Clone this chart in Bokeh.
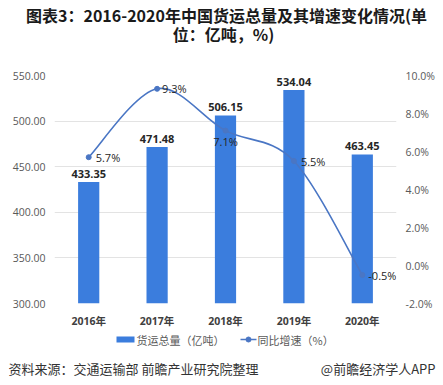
from bokeh.plotting import figure
from bokeh.layouts import column
from bokeh.models import (ColumnDataSource, Range1d, LinearAxis, LabelSet,
                          FixedTicker, NumeralTickFormatter, CustomJSTickFormatter)
from bokeh.core.properties import value
from bokeh.embed import file_html
from bokeh.resources import INLINE

years = ["2016年", "2017年", "2018年", "2019年", "2020年"]
volume = [433.35, 471.48, 506.15, 534.04, 463.45]
growth = [5.7, 9.3, 7.1, 5.5, -0.5]
left_ticks = [300, 350, 400, 450, 500, 550]
right_ticks = [-2, 0, 2, 4, 6, 8, 10]

title1 = "图表3：2016-2020年中国货运总量及其增速变化情况(单"
title2 = "位：亿吨，%)"
legend_bar = "货运总量（亿吨）"
legend_line = "同比增速（%）"
source_note = "资料来源：交通运输部 前瞻产业研究院整理"
brand = "@前瞻经济学人APP"

BAR = "#3b7ddd"
LINE = "#4a76c4"
CJK = "Noto Sans CJK SC"
NUM = "Open Sans, Noto Sans CJK SC"

W = 443
TOP_H, MAIN_H, BOT_H = 67, 266, 52


def blank(h):
    f = figure(width=W, height=h, output_backend="svg", toolbar_location=None,
               x_range=Range1d(0, W), y_range=Range1d(h, 0),
               min_border=0, min_border_left=0, min_border_right=0,
               min_border_top=0, min_border_bottom=0)
    f.axis.visible = False
    f.grid.visible = False
    f.outline_line_color = None
    f.background_fill_color = "white"
    f.border_fill_color = "white"
    f.frame_align = False
    return f


# ---- title ----
top = blank(TOP_H)
top.text(x=[226, 223], y=[14.5, 33], text=[title1, title2], text_align="center",
         text_baseline="middle", text_font=value(CJK), text_font_size="16px",
         text_font_style="bold", text_color="#1a1a1a")

# ---- main chart ----
FL, FR = 54, 396
p = figure(width=W, height=MAIN_H, output_backend="svg", toolbar_location=None,
           x_range=Range1d(-0.5, 4.5), y_range=Range1d(300, 550),
           min_border_left=FL, min_border_right=W - FR,
           min_border_top=8, min_border_bottom=30)
p.frame_align = False
p.extra_y_ranges = {"pct": Range1d(-2, 10)}
p.outline_line_color = None
p.background_fill_color = "white"
p.border_fill_color = "white"

xs = list(range(len(years)))
src = ColumnDataSource(dict(x=xs, vol=volume, g=growth,
                            vlab=["%.2f" % v for v in volume],
                            glab=["%.1f%%" % v for v in growth],
                            gx_off=[7, 5, 0, 7, 6],
                            gy_off=[0, 0, -11, 0, 0],
                            galign=["left", "left", "center", "left", "left"]))

p.vbar(x="x", top="vol", bottom=300, width=0.31, source=src,
       fill_color=BAR, line_color=None)

# smooth curve (Catmull-Rom as cubic bezier) through the growth values
n = len(growth)
x0, y0, x1, y1, cx0, cy0, cx1, cy1 = [], [], [], [], [], [], [], []
for i in range(n - 1):
    im, i2 = max(i - 1, 0), min(i + 2, n - 1)
    x0.append(xs[i]); y0.append(growth[i]); x1.append(xs[i + 1]); y1.append(growth[i + 1])
    cx0.append(xs[i] + (xs[i + 1] - xs[im]) / 6)
    cy0.append(growth[i] + (growth[i + 1] - growth[im]) / 6)
    cx1.append(xs[i + 1] - (xs[i2] - xs[i]) / 6)
    cy1.append(growth[i + 1] - (growth[i2] - growth[i]) / 6)
p.bezier(x0=x0, y0=y0, x1=x1, y1=y1, cx0=cx0, cy0=cy0, cx1=cx1, cy1=cy1,
         line_color=LINE, line_width=1.6, y_range_name="pct")
p.scatter(x="x", y="g", source=src, size=5, fill_color=LINE,
          line_color=LINE, y_range_name="pct")

p.yaxis.ticker = FixedTicker(ticks=left_ticks)
p.yaxis.formatter = NumeralTickFormatter(format="0.00")
ra = LinearAxis(y_range_name="pct", ticker=FixedTicker(ticks=right_ticks),
                formatter=CustomJSTickFormatter(code="return tick.toFixed(1) + '%';"))
p.add_layout(ra, "right")
for ax in [p.yaxis[0], ra, p.xaxis[0]]:
    ax.axis_line_color = None
    ax.major_tick_line_color = None
    ax.minor_tick_line_color = None
    ax.major_tick_out = 0
    ax.major_tick_in = 0
    ax.minor_tick_out = 0
    ax.minor_tick_in = 0
for ax in [p.yaxis[0], ra]:
    ax.major_label_text_font = NUM
    ax.major_label_text_font_size = "10.5px"
    ax.major_label_text_color = "#595959"
    ax.major_label_standoff = 9
p.xaxis.ticker = FixedTicker(ticks=xs)
p.xaxis.major_label_overrides = {i: y for i, y in enumerate(years)}
p.xaxis.major_label_text_font = NUM
p.xaxis.major_label_text_font_size = "10.5px"
p.xaxis.major_label_text_font_style = "bold"
p.xaxis.major_label_text_color = "#404040"
p.xaxis.major_label_standoff = 10
p.xgrid.grid_line_color = None
p.ygrid.grid_line_color = "#e3e3e3"
p.ygrid.ticker = FixedTicker(ticks=left_ticks)

p.add_layout(LabelSet(x="x", y="vol", text="vlab", source=src, y_offset=4,
                      text_align="center", text_baseline="bottom",
                      text_font=value(NUM), text_font_size="11px",
                      text_font_style="bold", text_color="#262626"))
p.add_layout(LabelSet(x="x", y="g", text="glab", source=src, y_range_name="pct",
                      x_offset="gx_off", y_offset="gy_off", text_align="galign",
                      text_baseline="middle", text_font=value(NUM),
                      text_font_size="11px", text_color="#262626"))

# ---- legend + footer ----
bot = blank(BOT_H)
bot.rect(x=[125], y=[6], width=18, height=6, fill_color=BAR, line_color=None)
bot.segment(x0=[240], y0=[6], x1=[256], y1=[6], line_color=LINE, line_width=1.6)
bot.scatter(x=[248], y=[6], size=5, fill_color=LINE, line_color=LINE)
bot.text(x=[136, 257], y=[6, 6], text=[legend_bar, legend_line], text_align="left",
         text_baseline="middle", text_font=value(CJK), text_font_size="11px",
         text_color="#595959")
bot.text(x=[8], y=[35], text=[source_note], text_align="left", text_baseline="middle",
         text_font=value(CJK), text_font_size="13px", text_color="#333333")
bot.text(x=[435], y=[35], text=[brand], text_align="right", text_baseline="middle",
         text_font=value(CJK), text_font_size="13px", text_color="#333333")

layout = column(top, p, bot, spacing=0)
open("out.html", "w").write(file_html(layout, INLINE))
